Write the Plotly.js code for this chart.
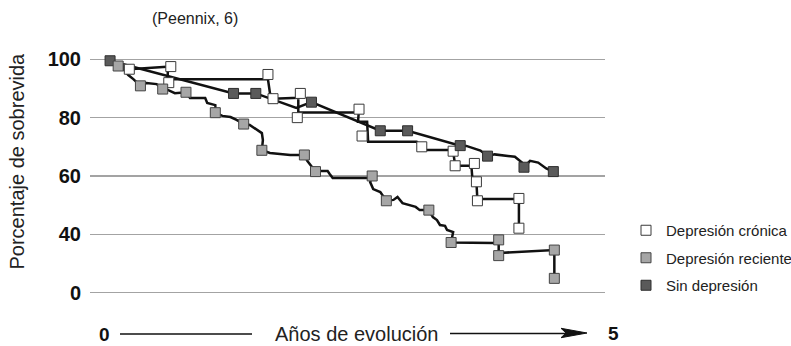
<!DOCTYPE html>
<html><head><meta charset="utf-8">
<script src="https://cdn.plot.ly/plotly-3.0.1.min.js"></script>
<style>html,body{margin:0;padding:0;background:#fff}#chart{width:791px;height:346px}</style>
</head><body><div id="chart"></div>
<script>
// ---- Data (years of evolution, % survival) ----
const seriesNames = ['Depresión crónica', 'Depresión reciente', 'Sin depresión'];

// Depresión crónica: marked points and the drawn curve
const cronicaX = [0.25, 0.66, 0.64, 1.62, 1.67, 1.94, 1.91, 2.52, 2.55, 3.14, 3.45, 3.47, 3.66, 3.68, 3.69, 4.10, 4.10];
const cronicaY = [96.6, 97.5, 92.0, 94.8, 86.5, 88.3, 80.0, 82.9, 73.7, 70.0, 68.5, 63.5, 64.3, 58.0, 51.5, 52.3, 42.1];
const cronicaCurveX = [0.06, 0.25, 0.66, 0.63, 0.63, 1.62, 1.62, 1.62, 1.64, 1.67, 1.92, 1.92, 1.92, 1.94, 2.48, 2.52, 2.51, 2.60, 2.61, 3.09, 3.14, 3.17, 3.42, 3.45, 3.47, 3.63, 3.64, 3.68, 3.69, 3.69, 4.10, 4.10];
const cronicaCurveY = [99.5, 96.6, 97.5, 95.6, 93.2, 93.2, 94.8, 93.2, 88.4, 86.5, 86.8, 88.3, 80.0, 81.8, 81.8, 82.9, 78.6, 78.6, 71.7, 71.7, 70.0, 68.9, 68.9, 68.5, 63.5, 63.5, 59.2, 58.0, 51.5, 52.1, 52.1, 42.1];

// Depresión reciente
const recienteX = [0.14, 0.36, 0.58, 0.81, 1.10, 1.38, 1.56, 1.98, 2.09, 2.65, 2.79, 3.21, 3.43, 3.90, 3.90, 4.45, 4.45];
const recienteY = [97.7, 90.9, 89.8, 88.7, 81.7, 77.8, 68.8, 67.2, 61.5, 60.0, 51.5, 48.3, 37.2, 38.1, 32.7, 34.6, 24.9];
const recienteCurveX = [0.06, 0.14, 0.19, 0.24, 0.29, 0.36, 0.42, 0.52, 0.58, 0.63, 0.70, 0.81, 0.85, 1.00, 1.02, 1.10, 1.10, 1.17, 1.25, 1.31, 1.38, 1.44, 1.47, 1.56, 1.57, 1.56, 1.64, 1.84, 1.98, 2.01, 2.04, 2.09, 2.13, 2.21, 2.23, 2.26, 2.65, 2.65, 2.63, 2.66, 2.73, 2.79, 2.86, 2.90, 2.95, 3.08, 3.12, 3.21, 3.25, 3.29, 3.32, 3.37, 3.39, 3.45, 3.43, 3.85, 3.90, 3.90, 3.95, 4.41, 4.45, 4.45];
const recienteCurveY = [99.5, 97.7, 96.7, 94.6, 93.2, 90.9, 91.9, 91.5, 89.8, 89.5, 88.4, 88.7, 86.7, 86.7, 85.0, 84.3, 81.7, 80.6, 80.2, 79.2, 77.8, 77.5, 76.8, 74.7, 72.3, 68.8, 67.9, 67.2, 67.2, 65.1, 63.8, 61.5, 61.7, 61.7, 60.7, 59.3, 59.3, 60.0, 57.9, 55.5, 54.5, 51.5, 51.8, 52.8, 50.7, 49.4, 48.3, 48.3, 45.9, 44.9, 43.2, 42.9, 41.5, 40.8, 37.2, 37.0, 38.1, 32.7, 33.7, 34.3, 34.6, 24.9];

// Sin depresión
const sinX = [0.06, 1.28, 1.50, 2.05, 2.73, 3.00, 3.52, 3.79, 4.15, 4.44];
const sinY = [99.5, 88.3, 88.3, 85.3, 75.5, 75.5, 70.4, 66.8, 63.0, 61.5];
const sinCurveX = [0.06, 1.28, 1.50, 1.90, 2.05, 2.73, 3.00, 3.52, 3.58, 3.72, 3.79, 3.86, 4.06, 4.13, 4.15, 4.21, 4.29, 4.37, 4.44];
const sinCurveY = [99.5, 88.3, 88.3, 83.3, 85.3, 75.5, 75.5, 70.4, 70.3, 68.7, 66.8, 67.4, 66.6, 64.6, 63.0, 65.2, 64.6, 62.6, 61.5];

// Axis ticks
const yTickVals = [20, 40, 60, 80, 100];
const yTickText = ['0', '40', '60', '80', '100'];
const xEndLabels = ['0', '5'];
const xTitle = 'Años de evolución';
const yTitle = 'Porcentaje de sobrevida';
const subtitle = '(Peennix, 6)';

// ---- Layout helpers (pixel -> paper for decorations only) ----
const L = 90, R = 186, T = 45, B = 46, W = 791, H = 346;
const pw = W - L - R, ph = H - T - B;
const px = v => (v - L) / pw;
const py = v => (H - B - v) / ph;

const FONT = 'Liberation Sans, Arial, Helvetica, sans-serif';
const lineStyle = {color: '#111', width: 2.5};
const mk = (fill, border) => ({symbol: 'square', size: 10, color: fill, line: {color: border, width: 1}});

const traces = [
  {x: cronicaCurveX, y: cronicaCurveY, mode: 'lines', line: lineStyle, showlegend: false, hoverinfo: 'skip'},
  {x: recienteCurveX, y: recienteCurveY, mode: 'lines', line: lineStyle, showlegend: false, hoverinfo: 'skip'},
  {x: sinCurveX, y: sinCurveY, mode: 'lines', line: lineStyle, showlegend: false, hoverinfo: 'skip'},
  {x: cronicaX, y: cronicaY, mode: 'markers', name: seriesNames[0], legendgroup: 'a', legendrank: 1, marker: mk('#ffffff', '#3a3a3a')},
  {x: sinX, y: sinY, mode: 'markers', name: seriesNames[2], legendgroup: 'c', legendrank: 3, marker: mk('#5a5a5a', '#2e2e2e')},
  {x: recienteX, y: recienteY, mode: 'markers', name: seriesNames[1], legendgroup: 'b', legendrank: 2, marker: mk('#a6a6a6', '#444')}
];

const arrowPath = 'M' + px(587) + ',' + py(333) + ' L' + px(561) + ',' + py(328.3) +
  ' L' + px(566) + ',' + py(333) + ' L' + px(561) + ',' + py(337.7) + ' Z';

const ann = (text, x, y, font, extra) => Object.assign({
  text: text, xref: 'paper', yref: 'paper', x: px(x), y: py(y),
  xanchor: 'center', yanchor: 'middle', showarrow: false, font: font
}, extra || {});

const layout = {
  width: W, height: H,
  margin: {l: L, r: R, t: T, b: B, pad: 0, autoexpand: false},
  paper_bgcolor: '#fff', plot_bgcolor: '#fff',
  font: {family: FONT, color: '#222'},
  showlegend: true,
  legend: {x: px(626), xanchor: 'left', y: py(214), yanchor: 'top', font: {size: 15, color: '#222', family: FONT},
           bgcolor: 'rgba(0,0,0,0)', borderwidth: 0, tracegroupgap: 5},
  xaxis: {range: [(L - 104) / 101.2, (L + pw - 104) / 101.2], showgrid: false, zeroline: false,
          showticklabels: false, ticks: '', showline: false, fixedrange: true},
  yaxis: {range: [100 - (H - B - 59.3) / 2.917, 100 + (59.3 - T) / 2.917], tickvals: yTickVals, ticktext: yTickText,
          showgrid: true, gridcolor: '#a3a3a3', gridwidth: 1.5, zeroline: false, showline: false, ticks: '',
          ticklabelstandoff: 8, tickfont: {size: 20, color: '#111', family: FONT, weight: 'bold'}, fixedrange: true},
  shapes: [
    {type: 'line', xref: 'paper', yref: 'paper', x0: px(120), x1: px(252), y0: py(334), y1: py(334), line: {color: '#111', width: 1.5}},
    {type: 'line', xref: 'paper', yref: 'paper', x0: px(450), x1: px(566), y0: py(333.5), y1: py(333.5), line: {color: '#111', width: 1.5}},
    {type: 'path', xref: 'paper', yref: 'paper', path: arrowPath, fillcolor: '#111', line: {color: '#111', width: 1}}
  ],
  annotations: [
    ann(subtitle, 195, 19, {size: 16, color: '#222'}),
    ann(yTitle, 16, 161.5, {size: 20, color: '#222'}, {textangle: -90}),
    ann(xEndLabels[0], 104, 334, {size: 19, color: '#111', weight: 'bold'}),
    ann(xTitle, 356, 334, {size: 20, color: '#222'}),
    ann(xEndLabels[1], 613, 333, {size: 19, color: '#111', weight: 'bold'})
  ]
};

Plotly.newPlot('chart', traces, layout, {staticPlot: true, displayModeBar: false});
</script></body></html>
